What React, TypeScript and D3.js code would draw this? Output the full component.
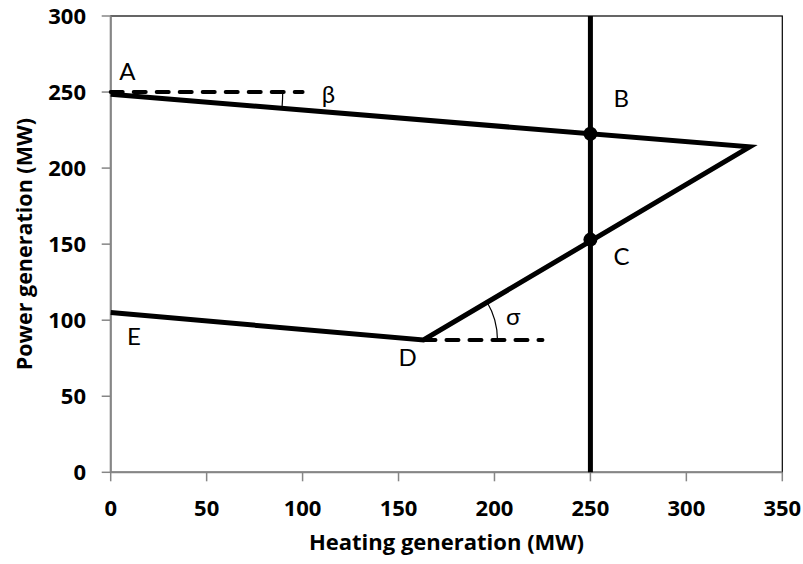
import React from "react";
import * as d3 from "d3";

// Operating region of a combined heat-and-power unit
const xTicks = [0, 50, 100, 150, 200, 250, 300, 350];
const yTicks = [0, 50, 100, 150, 200, 250, 300];

// Boundary of the feasible region: A -> vertex -> D -> E
const boundaryHeat = [0, 333, 163, 0];
const boundaryPower = [248.5, 214, 87, 105];

// Fixed heat demand line and its intersections B, C
const demandHeat = 250;
const demandPower = [0, 300];
const pointPower = [222.6, 153];

// Dashed horizontal reference lines (start heat, end heat, power)
const refStart = [0, 163];
const refEnd = [100, 225];
const refPower = [250, 87];

const labels = ["A", "β", "B", "C", "σ", "D", "E"];
const labelHeat = [4.5, 110, 262, 262, 206, 150, 8.5];
const labelPower = [258, 243, 240, 136, 97, 70, 84];

const W = 803;
const H = 564;

export default function App() {
  const x = d3.scaleLinear().domain([0, 350]).range([110.7, 782.3]);
  const y = d3.scaleLinear().domain([0, 300]).range([472.3, 16]);

  const pts: [number, number][] = boundaryHeat.map((h, i) => [h, boundaryPower[i]]);
  const line = d3.line<[number, number]>().x((d) => x(d[0])).y((d) => y(d[1]));

  // angle arcs
  const ax = x(0), ay = y(refPower[0]);
  const betaAngle = Math.atan2(y(boundaryPower[1]) - y(boundaryPower[0]), x(boundaryHeat[1]) - x(boundaryHeat[0]));
  const rB = 172;
  const betaPath = `M${ax + rB},${ay} A${rB},${rB} 0 0 1 ${ax + rB * Math.cos(betaAngle)},${ay + rB * Math.sin(betaAngle)}`;

  const dx = x(boundaryHeat[2]), dy = y(boundaryPower[2]);
  const sigmaAngle = Math.atan2(y(boundaryPower[1]) - dy, x(boundaryHeat[1]) - dx);
  const rS = 74;
  const sigmaPath = `M${dx + rS},${dy} A${rS},${rS} 0 0 0 ${dx + rS * Math.cos(sigmaAngle)},${dy + rS * Math.sin(sigmaAngle)}`;

  const boldFont = "'Open Sans', Lato, sans-serif";
  const labelFont = "Lato, 'Open Sans', sans-serif";

  return (
    <svg width={W} height={H} style={{ position: "absolute", left: 0, top: 0, background: "#fff" }} fontFamily={boldFont}>
      {/* plot frame */}
      <rect x={x(0)} y={y(300)} width={x(350) - x(0)} height={y(0) - y(300)} fill="none" stroke="#000" strokeWidth={1.2} />

      {/* axes */}
      <line x1={x(0)} x2={x(0)} y1={y(0)} y2={y(300)} stroke="#868686" strokeWidth={2} />
      <line x1={x(0)} x2={x(350)} y1={y(0)} y2={y(0)} stroke="#868686" strokeWidth={2} />
      {yTicks.map((t) => (
        <g key={"y" + t}>
          <line x1={x(0) - 9} x2={x(0)} y1={y(t)} y2={y(t)} stroke="#868686" strokeWidth={1.5} />
          <text x={86} y={y(t)} dy="0.36em" textAnchor="end" fontSize={22} fontWeight="bold" fill="#000">
            {t}
          </text>
        </g>
      ))}
      {xTicks.map((t) => (
        <g key={"x" + t}>
          <line x1={x(t)} x2={x(t)} y1={y(0)} y2={y(0) + 9} stroke="#868686" strokeWidth={1.5} />
          <text x={x(t)} y={516} textAnchor="middle" fontSize={22} fontWeight="bold" fill="#000">
            {t}
          </text>
        </g>
      ))}
      <text x={(x(0) + x(350)) / 2} y={550} textAnchor="middle" fontSize={22} fontWeight="bold" fill="#000">
        Heating generation (MW)
      </text>
      <text
        transform={`translate(32,${(y(0) + y(300)) / 2}) rotate(-90)`}
        textAnchor="middle"
        fontSize={21.5}
        fontWeight="bold"
        fill="#000"
      >
        Power generation (MW)
      </text>

      {/* dashed reference lines */}
      {refStart.map((s, i) => (
        <line
          key={"ref" + i}
          x1={x(s)}
          x2={x(refEnd[i])}
          y1={y(refPower[i])}
          y2={y(refPower[i])}
          stroke="#000"
          strokeWidth={4}
          strokeDasharray="12 11"
          strokeLinecap="round"
        />
      ))}

      {/* demand line */}
      <line x1={x(demandHeat)} x2={x(demandHeat)} y1={y(demandPower[0])} y2={y(demandPower[1])} stroke="#000" strokeWidth={5} />

      {/* feasible region boundary */}
      <path d={line(pts) || ""} fill="none" stroke="#000" strokeWidth={5} strokeLinejoin="miter" />

      {/* angle arcs */}
      <path d={betaPath} fill="none" stroke="#000" strokeWidth={1.2} />
      <path d={sigmaPath} fill="none" stroke="#000" strokeWidth={1.2} />

      {/* intersection points */}
      {pointPower.map((p, i) => (
        <circle key={"pt" + i} cx={x(demandHeat)} cy={y(p)} r={7} fill="#000" />
      ))}

      {/* point labels */}
      {labels.map((l, i) => (
        <text key={l} x={x(labelHeat[i])} y={y(labelPower[i])} fontSize={24} fontFamily={labelFont} fill="#000">
          {l}
        </text>
      ))}
    </svg>
  );
}
